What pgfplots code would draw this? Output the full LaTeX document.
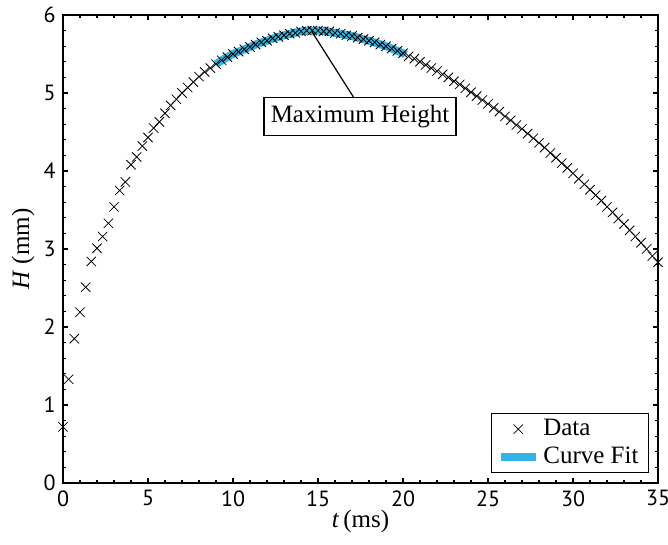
\documentclass[border=0pt]{standalone}
\usepackage{pgfplots}
\pgfplotsset{compat=1.18}
\usepackage{fontspec}
\setmainfont{Liberation Serif}
\newfontfamily\tickfont{PT Sans}
\definecolor{fitblue}{RGB}{51,181,229}

\pgfplotsset{
  every axis/.append style={line width=0.8pt},
}

\begin{document}
\begin{tikzpicture}
\begin{axis}[
    scale only axis,
    width=297.5pt, height=234pt,
    xmin=0, xmax=35, ymin=0, ymax=6,
    xtick={0,5,...,35}, ytick={0,1,...,6},
    minor x tick num=4, minor y tick num=4,
    major tick length=2.6pt, minor tick length=1.5pt,
    every tick/.style={line width=0.6pt, black},
    /pgf/number format/assume math mode=true,
    ticklabel style={font=\tickfont\fontsize{11}{13}\selectfont},
    xlabel={\textit{t}\,(ms)},
    ylabel={\textit{H} (mm)},
    label style={font=\fontsize{12.5}{15}\selectfont},
    xlabel style={at={(axis description cs:0.5,0)}, anchor=center, yshift=-19pt},
    ylabel style={at={(axis description cs:0,0.5)}, anchor=center, rotate=0, yshift=20pt},
    legend style={at={(axis description cs:0.985,0.0214)}, anchor=south east,
        draw=black, line width=0.6pt, fill=white,
        font=\fontsize{12.5}{15}\selectfont, inner xsep=3pt, inner ysep=1pt,
        row sep=0pt},
    legend cell align=left,
    ]
\addplot[only marks, mark=x, mark size=3.3pt, mark options={line width=0.4pt, black}]
  table[row sep=\\] {
x y\\
0.000 0.72\\ 0.333 1.33\\ 0.667 1.85\\ 1.000 2.19\\ 1.333 2.51\\ 1.667 2.84\\
2.000 3.01\\ 2.333 3.16\\ 2.667 3.33\\ 3.000 3.54\\ 3.333 3.75\\ 3.667 3.86\\
4.000 4.08\\ 4.333 4.18\\ 4.667 4.32\\ 5.000 4.43\\ 5.333 4.55\\ 5.667 4.63\\
6.000 4.74\\ 6.333 4.84\\ 6.667 4.92\\ 7.000 5.00\\ 7.333 5.07\\ 7.667 5.14\\
8.000 5.21\\ 8.333 5.27\\ 8.667 5.32\\ 9.000 5.37\\ 9.333 5.42\\ 9.667 5.46\\
10.000 5.50\\ 10.333 5.53\\ 10.667 5.56\\ 11.000 5.59\\ 11.333 5.62\\ 11.667 5.65\\
12.000 5.67\\ 12.333 5.70\\ 12.667 5.72\\ 13.000 5.74\\ 13.333 5.76\\ 13.667 5.77\\
14.000 5.79\\ 14.333 5.80\\ 14.667 5.80\\ 15.000 5.80\\ 15.333 5.79\\ 15.667 5.79\\
16.000 5.77\\ 16.333 5.76\\ 16.667 5.74\\ 17.000 5.73\\ 17.333 5.71\\ 17.667 5.69\\
18.000 5.67\\ 18.333 5.65\\ 18.667 5.62\\ 19.000 5.60\\ 19.333 5.57\\ 19.667 5.54\\
20.000 5.51\\ 20.333 5.47\\ 20.667 5.44\\ 21.000 5.40\\ 21.333 5.36\\ 21.667 5.32\\
22.000 5.28\\ 22.333 5.24\\ 22.667 5.20\\ 23.000 5.15\\ 23.333 5.11\\ 23.667 5.06\\
24.000 5.01\\ 24.333 4.96\\ 24.667 4.91\\ 25.000 4.86\\ 25.333 4.81\\ 25.667 4.76\\
26.000 4.70\\ 26.333 4.65\\ 26.667 4.59\\ 27.000 4.54\\ 27.333 4.48\\ 27.667 4.42\\
28.000 4.36\\ 28.333 4.30\\ 28.667 4.23\\ 29.000 4.17\\ 29.333 4.10\\ 29.667 4.04\\
30.000 3.97\\ 30.333 3.90\\ 30.667 3.83\\ 31.000 3.76\\ 31.333 3.69\\ 31.667 3.62\\
32.000 3.54\\ 32.333 3.47\\ 32.667 3.39\\ 33.000 3.32\\ 33.333 3.24\\ 33.667 3.16\\
34.000 3.08\\ 34.333 3.00\\ 34.667 2.91\\ 35.000 2.83\\
};
\addlegendentry{Data}
\addplot[color=fitblue, line width=4pt, smooth, mark=none] coordinates {
  (9.0,5.37) (9.5,5.44) (10.0,5.50) (10.5,5.545) (11.0,5.59) (11.5,5.635)
  (12.0,5.67) (12.5,5.71) (13.0,5.74) (13.5,5.765) (14.0,5.79) (14.5,5.80)
  (15.0,5.80) (15.5,5.79) (16.0,5.77) (16.5,5.75) (17.0,5.73) (17.5,5.70)
  (18.0,5.67) (18.5,5.635) (19.0,5.60) (19.5,5.555) (20.0,5.51) (20.15,5.49)
};
\addlegendentry{Curve Fit}
\draw[line width=0.6pt] (axis cs:14.63,5.79) -- (axis cs:17.08,4.95);
\node[draw=black, line width=0.6pt, fill=white, inner sep=0pt,
      minimum width=96pt, minimum height=19pt,
      font=\fontsize{12.5}{15}\selectfont] at (axis cs:17.47,4.70) {Maximum Height};
\end{axis}
\pgfresetboundingbox
\path[use as bounding box] ([xshift=-31.5pt,yshift=-31pt]current axis.south west)
  rectangle ([xshift=5pt,yshift=7.5pt]current axis.north east);
\end{tikzpicture}
\end{document}
